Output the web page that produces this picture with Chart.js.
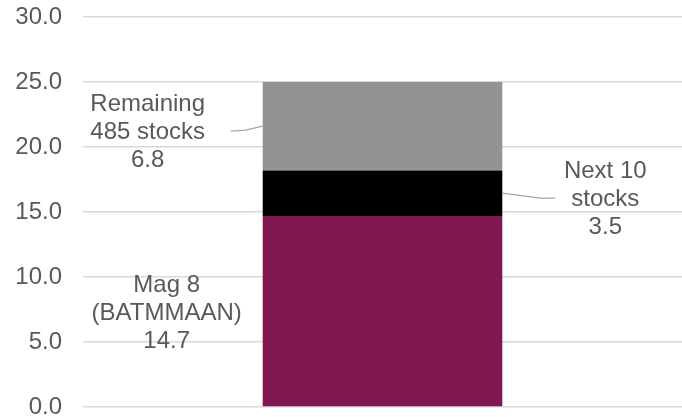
<!DOCTYPE html>
<html>
<head>
<meta charset="utf-8">
<script src="https://cdn.jsdelivr.net/npm/chart.js@4"></script>
<style>
  html, body { margin: 0; padding: 0; background: #fff; }
  #wrap { width: 682px; height: 417px; }
</style>
</head>
<body>
<div id="wrap"><canvas id="chart"></canvas></div>
<script>
// data
const categories = [""];
const seriesNames = ["Mag 8 (BATMMAAN)", "Next 10 stocks", "Remaining 485 stocks"];
const labelLines = [["Mag 8", "(BATMMAAN)"], ["Next 10", "stocks"], ["Remaining", "485 stocks"]];
const mag8 = [14.7];
const next10 = [3.5];
const remaining = [6.8];
const yMin = 0, yMax = 30, yStep = 5;

const colors = ["#801850", "#000000", "#939393"];
// where each label sits relative to its segment (style only)
const labelPlace = [
  { side: "left", dx: -96, dy: 2, leader: false },
  { side: "right", dx: 103, dy: 6, leader: true },
  { side: "left", dx: -115, dy: 6, leader: true }
];

const FONT = "Liberation Sans, Arial, sans-serif";

const segmentLabels = {
  id: "segmentLabels",
  afterDatasetsDraw(chart) {
    const ctx = chart.ctx;
    ctx.save();
    chart.data.datasets.forEach((ds, i) => {
      const el = chart.getDatasetMeta(i).data[0];
      if (!el) return;
      const p = labelPlace[i];
      const mid = (el.y + el.base) / 2;
      const left = el.x - el.width / 2;
      const right = el.x + el.width / 2;
      const edge = p.side === "left" ? left : right;
      const cx = edge + p.dx;
      const cy = mid + p.dy;

      if (p.leader) {
        ctx.strokeStyle = "#a6a6a6";
        ctx.lineWidth = 1.3;
        ctx.beginPath();
        ctx.moveTo(edge, mid);
        if (p.side === "left") {
          ctx.lineTo(edge - 17, mid + 4);
          ctx.lineTo(edge - 32, mid + 5);
        } else {
          ctx.lineTo(edge + 38, mid + 5);
          ctx.lineTo(edge + 53, mid + 5);
        }
        ctx.stroke();
      }

      const lines = labelLines[i].concat([ds.data[0].toFixed(1)]);
      ctx.fillStyle = "#595959";
      ctx.font = "24px " + FONT;
      ctx.textAlign = "center";
      ctx.textBaseline = "middle";
      const lh = 28;
      lines.forEach((t, k) => {
        ctx.fillText(t, cx, cy + (k - 1) * lh);
      });
    });
    ctx.restore();
  }
};

new Chart(document.getElementById("chart"), {
  type: "bar",
  data: {
    labels: categories,
    datasets: [
      { label: seriesNames[0], data: mag8, backgroundColor: colors[0] },
      { label: seriesNames[1], data: next10, backgroundColor: colors[1] },
      { label: seriesNames[2], data: remaining, backgroundColor: colors[2] }
    ]
  },
  options: {
    responsive: true,
    maintainAspectRatio: false,
    animation: false,
    layout: { padding: { top: 17, bottom: 10, left: 0, right: 0 } },
    datasets: { bar: { barPercentage: 0.4, categoryPercentage: 1 } },
    plugins: {
      legend: { display: false },
      tooltip: { enabled: false }
    },
    scales: {
      x: {
        stacked: true,
        display: false
      },
      y: {
        stacked: true,
        min: yMin,
        max: yMax,
        border: { display: false },
        grid: {
          color: "#d9d9d9",
          lineWidth: 1.5,
          drawTicks: true,
          tickLength: 21,
          tickColor: "rgba(0,0,0,0)"
        },
        ticks: {
          stepSize: yStep,
          padding: 0,
          color: "#595959",
          font: { family: FONT, size: 24, lineHeight: 0.8 },
          callback: (v) => Number(v).toFixed(1)
        },
        afterFit(scale) { scale.width = 83; }
      }
    }
  },
  plugins: [segmentLabels]
});
</script>
</body>
</html>
